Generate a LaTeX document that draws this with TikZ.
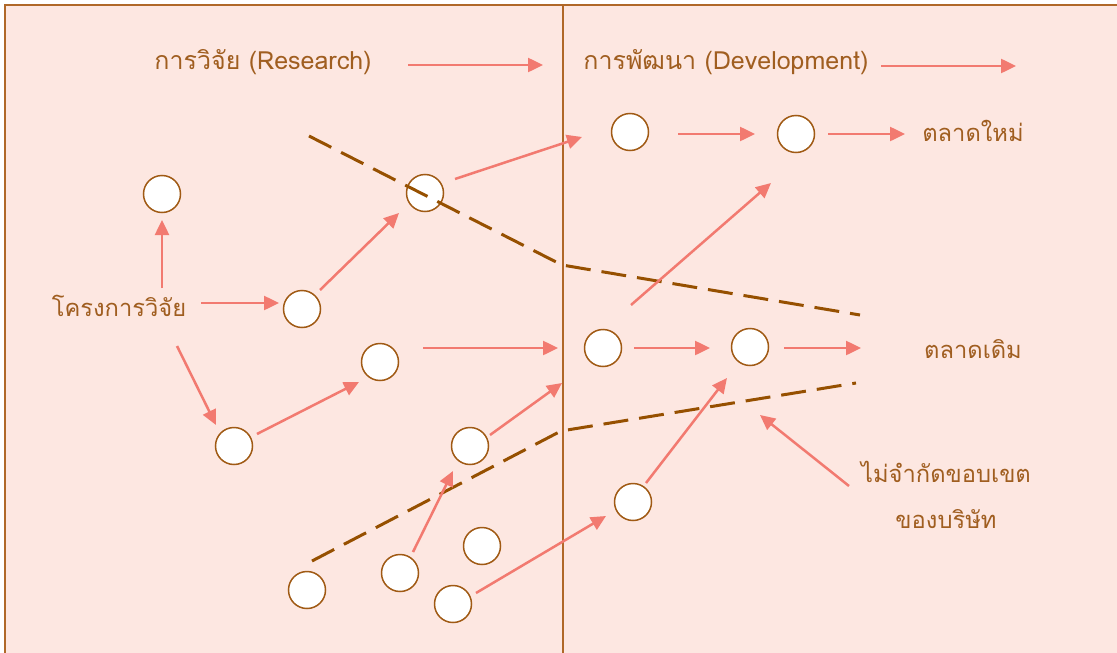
\documentclass[tikz,border=0pt]{standalone}
\usepackage{fontspec}
\newfontfamily\thaifont[Script=Thai]{Loma}
\usetikzlibrary{arrows.meta}
\definecolor{bg}{RGB}{253,231,225}
\definecolor{bordc}{RGB}{176,104,40}
\definecolor{txt}{RGB}{160,94,32}
\definecolor{circc}{RGB}{160,90,20}
\definecolor{arrowc}{RGB}{242,122,112}
\definecolor{dashc}{RGB}{150,80,0}
\begin{document}
\begin{tikzpicture}[x=1pt,y=-1pt,
  circ/.style={circle,draw=circc,fill=white,line width=1.5pt,minimum size=37pt,inner sep=0pt},
  arr/.style={draw=arrowc,line width=2.5pt,-{Triangle[length=15pt,width=14pt]}},
  dashln/.style={draw=dashc,line width=3pt,dash pattern=on 25pt off 11pt},
  lbl/.style={text=txt,font=\thaifont\fontsize{25}{30}\selectfont,inner sep=0pt},
  tlbl/.style={text=txt,font=\thaifont\fontsize{23.7}{28}\selectfont,inner sep=0pt}]
\useasboundingbox (0,0) rectangle (1117,653);
\fill[bg] (5,5) rectangle (1117,653);
\draw[bordc,line width=2pt] (5,653) -- (5,5) -- (1117,5);
\draw[bordc,line width=1.5pt] (563,5) -- (563,653);

% labels
\node[lbl] (research) at (263,62) {การวิจัย (Research)};
\node[lbl] (develop) at (726,62) {การพัฒนา (Development)};
\node[tlbl] (newmkt) at (973,131) {ตลาดใหม่};
\node[tlbl] (oldmkt) at (973,349) {ตลาดเดิม};
\node[tlbl] (unl1) at (946,472) {ไม่จำกัดขอบเขต};
\node[tlbl] (unl2) at (946,519) {ของบริษัท};
\node[tlbl] (proj) at (119,306) {โครงการวิจัย};

% circles
\node[circ] (c1) at (162,194) {};
\node[circ] (c2) at (302,309) {};
\node[circ] (c3) at (425,193) {};
\node[circ] (c4) at (630,132) {};
\node[circ] (c5) at (796,134) {};
\node[circ] (c6) at (380,362) {};
\node[circ] (c7) at (603,348) {};
\node[circ] (c8) at (750,347) {};
\node[circ] (c9) at (234,446) {};
\node[circ] (c10) at (470,446) {};
\node[circ] (c11) at (633,502) {};
\node[circ] (c12) at (307,590) {};
\node[circ] (c13) at (400,573) {};
\node[circ] (c14) at (482,546) {};
\node[circ] (c15) at (453,604) {};

% dashed boundaries
\coordinate (d1a) at (309,136);
\coordinate (d1b) at (562,265);
\coordinate (d1c) at (860,315);
\coordinate (d2a) at (312,561);
\coordinate (d2b) at (561,431);
\coordinate (d2c) at (856,383);
\draw[dashln] (d1a) -- (d1b) -- (d1c);
\draw[dashln] (d2a) -- (d2b) -- (d2c);

% arrow end points
\coordinate (r1) at (408,65);   \coordinate (r2) at (543,65);
\coordinate (v1) at (881,66);   \coordinate (v2) at (1016,66);
\coordinate (a1s) at (162,288); \coordinate (a1e) at (162,220);
\coordinate (a2s) at (201,303); \coordinate (a2e) at (279,303);
\coordinate (a3s) at (320,290); \coordinate (a3e) at (399,213);
\coordinate (a4s) at (177,346); \coordinate (a4e) at (216,425);
\coordinate (a5s) at (257,434); \coordinate (a5e) at (359,382);
\coordinate (a6s) at (455,179); \coordinate (a6e) at (582,137);
\coordinate (a7s) at (678,134); \coordinate (a7e) at (755,134);
\coordinate (a8s) at (828,134); \coordinate (a8e) at (905,134);
\coordinate (a9s) at (631,305); \coordinate (a9e) at (771,183);
\coordinate (a10s) at (423,348); \coordinate (a10e) at (558,348);
\coordinate (a11s) at (634,348); \coordinate (a11e) at (710,348);
\coordinate (a12s) at (784,348); \coordinate (a12e) at (861,348);
\coordinate (a13s) at (490,435); \coordinate (a13e) at (562,383);
\coordinate (a14s) at (413,552); \coordinate (a14e) at (453,471);
\coordinate (a15s) at (476,593); \coordinate (a15e) at (606,516);
\coordinate (a16s) at (646,483); \coordinate (a16e) at (727,378);
\coordinate (a17s) at (849,486); \coordinate (a17e) at (760,415);

\draw[arr] (r1) -- (r2);
\draw[arr] (v1) -- (v2);
\foreach \i in {1,...,17} {\draw[arr] (a\i s) -- (a\i e);}
\end{tikzpicture}
\end{document}
